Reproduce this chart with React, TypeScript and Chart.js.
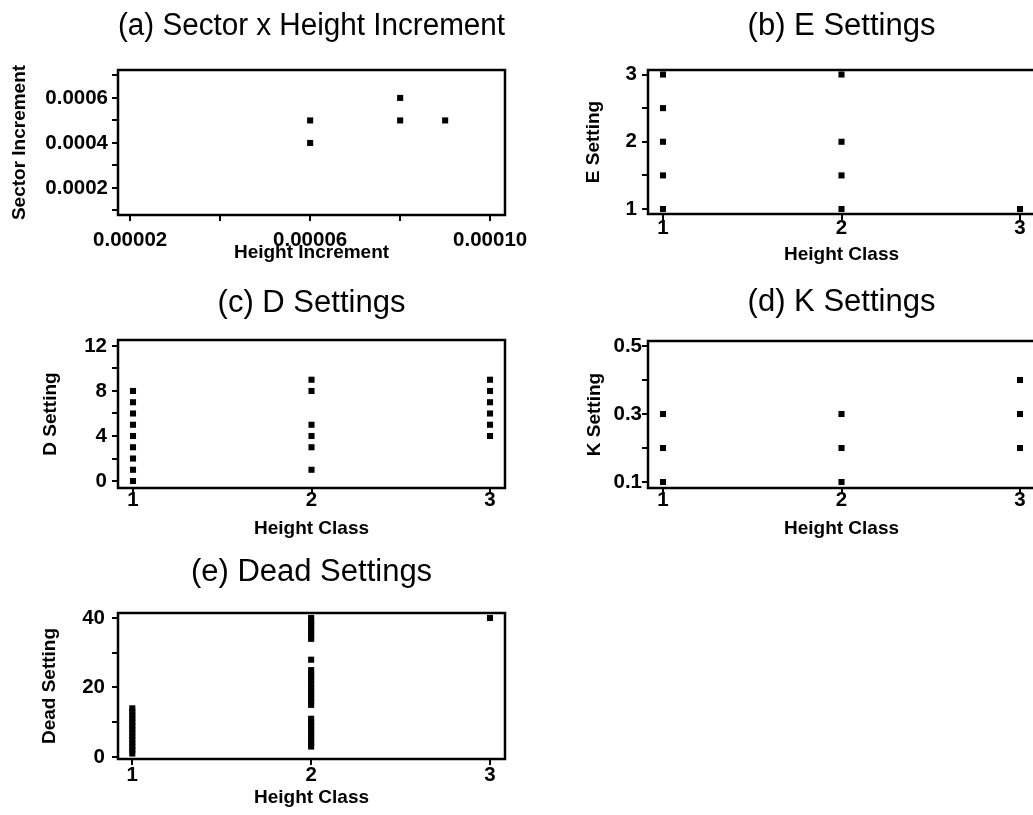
import React, { useEffect, useRef } from 'react';
import { Chart, registerables } from 'chart.js';

Chart.register(...registerables);

const FONT = "'Liberation Sans', Arial, Helvetica, sans-serif";

// ---------- (a) Sector x Height Increment ----------
const aHeightIncrement = [0.00006, 0.00006, 0.00008, 0.00008, 0.00009];
const aSectorIncrement = [0.0005, 0.0004, 0.0006, 0.0005, 0.0005];
const aXTicks = [0.00002, 0.00004, 0.00006, 0.00008, 0.0001];
const aXTickLabels = ['0.00002', '', '0.00006', '', '0.00010'];
const aYTicks = [0.0001, 0.0002, 0.0003, 0.0004, 0.0005, 0.0006, 0.0007];
const aYTickLabels = ['', '0.0002', '', '0.0004', '', '0.0006', ''];

// ---------- (b) E Settings ----------
const bHeightClass = [1, 1, 1, 1, 1, 2, 2, 2, 2, 3];
const bESetting = [1, 1.5, 2, 2.5, 3, 1, 1.5, 2, 3, 1];
const bYTicks = [1, 1.5, 2, 2.5, 3];
const bYTickLabels = ['1', '', '2', '', '3'];

// ---------- (c) D Settings ----------
const cHeightClass = [1, 1, 1, 1, 1, 1, 1, 1, 1, 2, 2, 2, 2, 2, 2, 3, 3, 3, 3, 3, 3];
const cDSetting = [0, 1, 2, 3, 4, 5, 6, 7, 8, 1, 3, 4, 5, 8, 9, 4, 5, 6, 7, 8, 9];
const cYTicks = [0, 2, 4, 6, 8, 10, 12];
const cYTickLabels = ['0', '', '4', '', '8', '', '12'];

// ---------- (d) K Settings ----------
const dHeightClass = [1, 1, 1, 2, 2, 2, 3, 3, 3];
const dKSetting = [0.1, 0.2, 0.3, 0.1, 0.2, 0.3, 0.2, 0.3, 0.4];
const dYTicks = [0.1, 0.2, 0.3, 0.4, 0.5];
const dYTickLabels = ['0.1', '', '0.3', '', '0.5'];

// ---------- (e) Dead Settings ----------
const eHeightClass = [
  1, 1, 1, 1, 1, 1, 1, 1, 1, 1, 1, 1, 1, 1,
  2, 2, 2, 2, 2, 2, 2, 2, 2,
  2, 2, 2, 2, 2, 2, 2, 2, 2, 2, 2,
  2,
  2, 2, 2, 2, 2, 2, 2,
  3,
];
const eDeadSetting = [
  1, 2, 3, 4, 5, 6, 7, 8, 9, 10, 11, 12, 13, 14,
  3, 4, 5, 6, 7, 8, 9, 10, 11,
  15, 16, 17, 18, 19, 20, 21, 22, 23, 24, 25,
  28,
  34, 35, 36, 37, 38, 39, 40,
  40,
];
const eYTicks = [0, 10, 20, 30, 40];
const eYTickLabels = ['0', '', '20', '', '40'];

// ---------- shared height-class axis ----------
const classTicks = [1, 2, 3];
const classTickLabels = ['1', '2', '3'];

type Spec = {
  title: string;
  xTitle: string;
  yTitle: string;
  xs: number[];
  ys: number[];
  xMin: number;
  xMax: number;
  yMin: number;
  yMax: number;
  xTicks: number[];
  xTickLabels: string[];
  yTicks: number[];
  yTickLabels: string[];
  box: [number, number, number, number];
  titleGap: number;
  xLabelPad: number;
  xTitlePad: number;
  yLabelPad: number;
  yTitlePad: number;
};

const Y_AXIS_W = 118;
const X_AXIS_H = 60;
const TOP_H = 70;
const RIGHT_PAD = 45;
const TITLE_SIZE = 31;
const TITLE_LH = TITLE_SIZE * 1.2;

const specs: Spec[] = [
  {
    title: '(a) Sector x Height Increment', xTitle: 'Height Increment', yTitle: 'Sector Increment',
    xs: aHeightIncrement, ys: aSectorIncrement,
    xMin: 0.0000173, xMax: 0.0001033, yMin: 0.00008, yMax: 0.000724,
    xTicks: aXTicks, xTickLabels: aXTickLabels, yTicks: aYTicks, yTickLabels: aYTickLabels,
    box: [118, 70, 387, 145], titleGap: 43.5, xLabelPad: 9.25, xTitlePad: 10.6, yLabelPad: 4, yTitlePad: 8.1,
  },
  {
    title: '(b) E Settings', xTitle: 'Height Class', yTitle: 'E Setting',
    xs: bHeightClass, ys: bESetting,
    xMin: 0.916, xMax: 3.084, yMin: 0.926, yMax: 3.067,
    xTicks: classTicks, xTickLabels: classTickLabels, yTicks: bYTicks, yTickLabels: bYTickLabels,
    box: [648, 70, 387, 144], titleGap: 44, xLabelPad: -1.75, xTitlePad: 8.1, yLabelPad: 5, yTitlePad: 52.1,
  },
  {
    title: '(c) D Settings', xTitle: 'Height Class', yTitle: 'D Setting',
    xs: cHeightClass, ys: cDSetting,
    xMin: 0.916, xMax: 3.084, yMin: -0.62, yMax: 12.53,
    xTicks: classTicks, xTickLabels: classTickLabels, yTicks: cYTicks, yTickLabels: cYTickLabels,
    box: [118, 340, 387, 148], titleGap: 36.5, xLabelPad: -3.75, xTitlePad: 7.6, yLabelPad: 5, yTitlePad: 39.6,
  },
  {
    title: '(d) K Settings', xTitle: 'Height Class', yTitle: 'K Setting',
    xs: dHeightClass, ys: dKSetting,
    xMin: 0.916, xMax: 3.084, yMin: 0.0824, yMax: 0.5147,
    xTicks: classTicks, xTickLabels: classTickLabels, yTicks: dYTicks, yTickLabels: dYTickLabels,
    box: [648, 341, 387, 147], titleGap: 38.5, xLabelPad: -3.75, xTitlePad: 7.6, yLabelPad: 0, yTitlePad: 53.6,
  },
  {
    title: '(e) Dead Settings', xTitle: 'Height Class', yTitle: 'Dead Setting',
    xs: eHeightClass, ys: eDeadSetting,
    xMin: 0.92, xMax: 3.084, yMin: -0.58, yMax: 41.44,
    xTicks: classTicks, xTickLabels: classTickLabels, yTicks: eYTicks, yTickLabels: eYTickLabels,
    box: [118, 613, 387, 146], titleGap: 40.5, xLabelPad: 0.25, xTitlePad: 9.6, yLabelPad: 7, yTitlePad: 38.6,
  },
];

const framePlugin = {
  id: 'frame',
  beforeDatasetsDraw(chart: any) {
    const { ctx, chartArea } = chart;
    const { left, top, right, bottom } = chartArea;
    ctx.save();
    ctx.strokeStyle = '#000';
    ctx.lineWidth = 2.5;
    ctx.strokeRect(left, top, right - left, bottom - top);
    ctx.restore();
  },
};

function Panel({ spec }: { spec: Spec }) {
  const ref = useRef<HTMLCanvasElement>(null);
  const [bx, by, bw, bh] = spec.box;
  const cw = Y_AXIS_W + bw + RIGHT_PAD;
  const ch = TOP_H + bh + X_AXIS_H;

  useEffect(() => {
    if (!ref.current) return;
    const tickFont = { family: FONT, size: 20.5, weight: 'bold' as const, lineHeight: 1 };
    const axisTitleFont = { family: FONT, size: 19, weight: 'bold' as const, lineHeight: 1.2 };
    const chart = new Chart(ref.current, {
      type: 'scatter',
      data: {
        datasets: [
          {
            data: spec.xs.map((x, i) => ({ x, y: spec.ys[i] })),
            pointStyle: 'rect',
            pointRadius: 4.3,
            pointHoverRadius: 4.3,
            backgroundColor: '#000',
            borderColor: '#000',
            borderWidth: 0,
          },
        ],
      },
      options: {
        responsive: false,
        animation: false,
        events: [],
        layout: { padding: { left: 0, top: 0, right: RIGHT_PAD, bottom: 0 } },
        plugins: {
          legend: { display: false },
          tooltip: { enabled: false },
          title: {
            display: true,
            text: spec.title,
            fullSize: false,
            color: '#000',
            font: { family: FONT, size: TITLE_SIZE, weight: 'normal', lineHeight: 1.2 },
            padding: {
              top: TOP_H - spec.titleGap - TITLE_LH / 2,
              bottom: spec.titleGap - TITLE_LH / 2,
            },
          },
        },
        scales: {
          x: {
            type: 'linear',
            min: spec.xMin,
            max: spec.xMax,
            afterFit: (s: any) => { s.height = X_AXIS_H; },
            afterBuildTicks: (s: any) => { s.ticks = spec.xTicks.map((v) => ({ value: v })); },
            ticks: {
              callback: (_v: any, i: number) => spec.xTickLabels[i],
              autoSkip: false,
              maxRotation: 0,
              minRotation: 0,
              color: '#000',
              font: tickFont,
              padding: spec.xLabelPad,
            },
            grid: { drawOnChartArea: false, drawTicks: true, tickLength: 6, color: '#000', lineWidth: 2 },
            border: { display: false },
            title: {
              display: true,
              text: spec.xTitle,
              color: '#000',
              font: axisTitleFont,
              padding: { top: 0, bottom: spec.xTitlePad },
            },
          },
          y: {
            type: 'linear',
            min: spec.yMin,
            max: spec.yMax,
            afterFit: (s: any) => { s.width = Y_AXIS_W; },
            afterBuildTicks: (s: any) => { s.ticks = spec.yTicks.map((v) => ({ value: v })); },
            ticks: {
              callback: (_v: any, i: number) => spec.yTickLabels[i],
              autoSkip: false,
              color: '#000',
              font: tickFont,
              padding: spec.yLabelPad,
            },
            grid: { drawOnChartArea: false, drawTicks: true, tickLength: 6, color: '#000', lineWidth: 2 },
            border: { display: false },
            title: {
              display: true,
              text: spec.yTitle,
              color: '#000',
              font: axisTitleFont,
              padding: { top: spec.yTitlePad, bottom: 0 },
            },
          },
        },
      } as any,
      plugins: [framePlugin],
    });
    return () => chart.destroy();
  }, [spec]);

  return (
    <canvas
      ref={ref}
      width={cw}
      height={ch}
      style={{ position: 'absolute', left: bx - Y_AXIS_W, top: by - TOP_H, width: cw, height: ch }}
    />
  );
}

export default function App() {
  return (
    <div
      style={{
        position: 'fixed',
        left: 0,
        top: 0,
        width: 1033,
        height: 815,
        overflow: 'hidden',
        background: '#fff',
      }}
    >
      {specs.map((s, i) => (
        <Panel key={i} spec={s} />
      ))}
    </div>
  );
}
